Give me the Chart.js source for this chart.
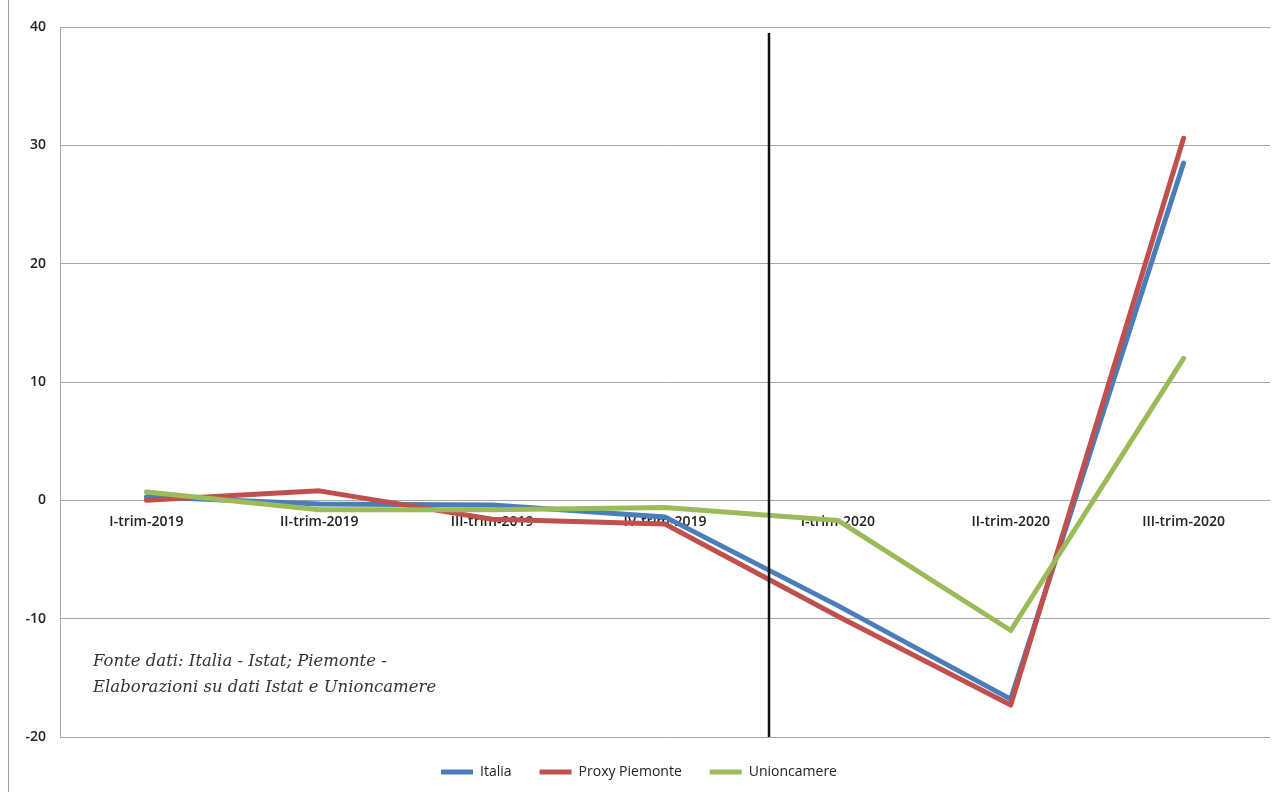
<!DOCTYPE html>
<html>
<head>
<meta charset="utf-8">
<script src="https://cdn.jsdelivr.net/npm/chart.js@4/dist/chart.umd.min.js"></script>
<style>
  html, body { margin: 0; padding: 0; background: #fff; }
  #wrap { position: relative; width: 1279px; height: 792px; }
  canvas { display: block; }
</style>
</head>
<body>
<div id="wrap"><canvas id="c" width="1279" height="792"></canvas></div>
<script>
// Quarterly categories
const categories = ['I-trim-2019', 'II-trim-2019', 'III-trim-2019', 'IV-trim-2019', 'I-trim-2020', 'II-trim-2020', 'III-trim-2020'];

// Percentage changes per series
const italia        = [0.3, -0.3, -0.4, -1.4, -8.9, -16.8, 28.5];
const proxyPiemonte = [0.0, 0.8, -1.6, -2.0, -9.8, -17.3, 30.6];
const unioncamere   = [0.7, -0.8, -0.8, -0.6, -1.7, -11.0, 12.0];

// Y axis range and step
const yMin = -20, yMax = 40, yStep = 10;

// Position of the vertical separator (between IV-2019 and I-2020)
const separatorAt = 3.6;
const separatorTop = 39.5;

const noteLines = ['Fonte dati: Italia - Istat; Piemonte -', 'Elaborazioni su dati Istat e Unioncamere'];

const BLUE = '#4a7ebb', RED = '#c0504d', GREEN = '#9bbb59';

const frame = {
  id: 'frame',
  beforeDraw(chart) {
    const ctx = chart.ctx;
    ctx.save();
    ctx.fillStyle = '#fff';
    ctx.fillRect(0, 0, chart.width, chart.height);
    ctx.strokeStyle = '#9a9a9a';
    ctx.lineWidth = 1;
    ctx.beginPath();
    ctx.moveTo(8.5, 0);
    ctx.lineTo(8.5, chart.height);
    ctx.stroke();
    ctx.restore();
  }
};

const separator = {
  id: 'separator',
  afterDatasetsDraw(chart) {
    const { ctx, scales: { x, y } } = chart;
    const px = Math.round(x.getPixelForValue(separatorAt));
    ctx.save();
    ctx.strokeStyle = '#111';
    ctx.lineWidth = 2.5;
    ctx.beginPath();
    ctx.moveTo(px, y.getPixelForValue(separatorTop));
    ctx.lineTo(px, y.getPixelForValue(yMin));
    ctx.stroke();
    // source note
    ctx.fillStyle = '#333';
    ctx.font = 'italic 16.5px "DejaVu Serif"';
    ctx.textBaseline = 'middle';
    const left = chart.chartArea.left + 33;
    const y0 = y.getPixelForValue(-13.6);
    noteLines.forEach((t, i) => ctx.fillText(t, left, y0 + i * 26));
    ctx.restore();
  }
};

const lineStyle = { borderWidth: 5, borderCapStyle: 'round', borderJoinStyle: 'round', pointRadius: 0, pointHoverRadius: 0, tension: 0, fill: false };

new Chart(document.getElementById('c'), {
  type: 'line',
  data: {
    labels: categories,
    datasets: [
      { label: 'Italia', data: italia, borderColor: BLUE, backgroundColor: BLUE, order: 3, ...lineStyle },
      { label: 'Proxy Piemonte', data: proxyPiemonte, borderColor: RED, backgroundColor: RED, order: 2, ...lineStyle },
      { label: 'Unioncamere', data: unioncamere, borderColor: GREEN, backgroundColor: GREEN, order: 1, ...lineStyle }
    ]
  },
  options: {
    responsive: false,
    animation: false,
    layout: { padding: { left: 8, right: 9, top: 27, bottom: 3 } },
    scales: {
      x: {
        position: { y: 0 },
        offset: true,
        grid: { display: false, drawTicks: false },
        border: { display: false },
        ticks: { color: '#222', font: { family: 'Open Sans', size: 14, weight: '600' }, padding: 13, maxRotation: 0, autoSkip: false }
      },
      y: {
        min: yMin, max: yMax,
        afterFit(scale) { scale.width = 52; },
        grid: { color: '#a6a6a6', lineWidth: 1, drawTicks: false },
        border: { display: true, color: '#a6a6a6' },
        ticks: { stepSize: yStep, color: '#222', font: { family: 'Open Sans', size: 14, weight: '600' }, padding: 14 }
      }
    },
    plugins: {
      title: { display: false },
      tooltip: { enabled: false },
      legend: {
        position: 'bottom',
        labels: {
          usePointStyle: true,
          pointStyle: 'line',
          pointStyleWidth: 32,
          padding: 28,
          color: '#222',
          font: { family: 'Open Sans', size: 14 },
          sort: (a, b) => a.datasetIndex - b.datasetIndex
        }
      }
    }
  },
  plugins: [frame, separator]
});
</script>
</body>
</html>
